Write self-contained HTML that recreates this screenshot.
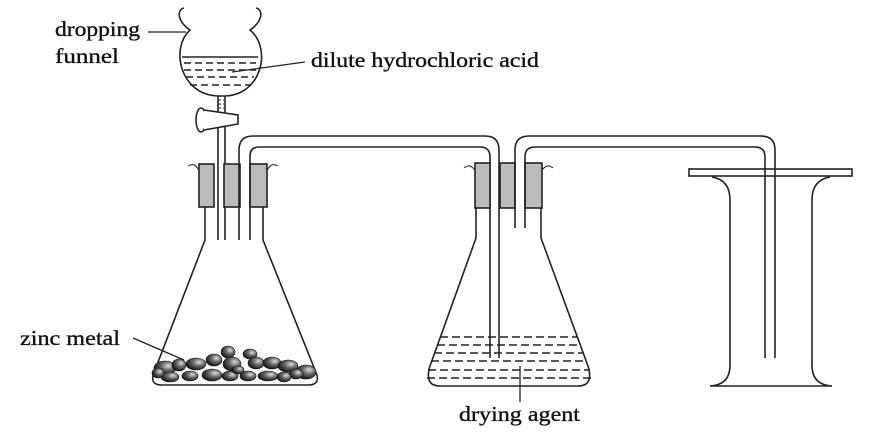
<!DOCTYPE html>
<html><head><style>
html,body{margin:0;padding:0;background:#fff;}
svg{display:block;}
text{font-family:"Liberation Serif",serif;font-size:21px;fill:#111;stroke:#111;stroke-width:0.35;}
</style></head><body>
<svg width="878" height="433" viewBox="0 0 878 433" xmlns="http://www.w3.org/2000/svg">
<defs>
<radialGradient id="z" cx="0.65" cy="0.35" r="0.7">
<stop offset="0" stop-color="#ddd"/><stop offset="0.45" stop-color="#666"/><stop offset="1" stop-color="#111"/>
</radialGradient>
</defs>
<g fill="none" stroke="#222" stroke-width="1.6">
<!-- funnel -->
<path d="M184 8 C176 10 178 22 190 30 C170 48 180 95 218 96 L225 96 C262 95 272 48 250 30 C262 22 264 10 256 8"/>
<line x1="182" y1="57" x2="258" y2="57"/>
<g stroke-dasharray="7,4" stroke-width="1.5">
<line x1="184" y1="63" x2="256" y2="63"/><line x1="184" y1="70" x2="256" y2="70"/>
<line x1="186" y1="77" x2="254" y2="77"/><line x1="190" y1="85" x2="250" y2="85"/>
</g>
<line x1="218" y1="96" x2="218" y2="240"/><line x1="225" y1="96" x2="225" y2="240"/>
<g stroke-dasharray="2,2" stroke-width="1"><line x1="219" y1="100" x2="224" y2="100"/><line x1="219" y1="104" x2="224" y2="104"/><line x1="219" y1="108" x2="224" y2="108"/></g>
<ellipse cx="201" cy="120" rx="5" ry="12" fill="#fff"/>
<path d="M204 110 L238 115 L238 124 L204 130" fill="#fff"/>
<!-- left flask -->
<path d="M205 207 L205 240 L155 370 Q148 385 162 385 L308 385 Q322 385 315 370 L263 240 L263 207"/>
<path d="M188 166 C195 162 197 168 199 170 M278 166 C271 162 269 168 267 170" stroke-width="1"/>
<g fill="#bbb"><rect x="199" y="164" width="15" height="43"/><rect x="224" y="164" width="16" height="43"/><rect x="250" y="164" width="17" height="43"/></g>
<!-- tube 1 -->
<path d="M239 240 L239 150 Q239 136 253 136 L485 136 Q499 136 499 150 L499 358"/>
<path d="M250 240 L250 156 Q250 147 259 147 L480 147 Q490 147 490 157 L490 358"/>
<!-- middle flask -->
<path d="M476 208 L476 238 L430 366 Q424 386 440 386 L578 386 Q594 386 588 366 L541 238 L541 208"/>
<path d="M464 168 C470 163 473 168 475 170 M553 168 C547 163 544 168 542 170" stroke-width="1"/>
<g fill="#bbb"><rect x="475" y="163" width="15" height="45"/><rect x="500" y="163" width="15" height="45"/><rect x="525" y="163" width="17" height="45"/></g>
<g stroke-dasharray="8,4" stroke-width="1.5">
<line x1="440" y1="337" x2="578" y2="337"/><line x1="437" y1="345" x2="581" y2="345"/>
<line x1="434" y1="353" x2="584" y2="353"/><line x1="431" y1="361" x2="587" y2="361"/>
<line x1="428" y1="370" x2="590" y2="370"/><line x1="427" y1="378" x2="591" y2="378"/>
</g>
<!-- tube 2 -->
<path d="M515 228 L515 150 Q515 136 529 136 L761 136 Q775 136 775 150 L775 358"/>
<path d="M525 228 L525 157 Q525 147 535 147 L755 147 Q765 147 765 157 L765 358"/>
<!-- gas jar -->
<rect x="689" y="169" width="163" height="7" fill="#fff"/>
<line x1="765" y1="169" x2="765" y2="176"/><line x1="775" y1="169" x2="775" y2="176"/>
<path d="M712 177 Q730 180 730 200 L730 365 Q730 385 710 386 L832 386 Q812 385 812 365 L812 200 Q812 180 830 177"/>
<!-- label lines -->
<line x1="148" y1="32" x2="186" y2="32" stroke-width="1.3"/>
<line x1="232" y1="72" x2="305" y2="62" stroke-width="1.3"/>
<line x1="133" y1="338" x2="184" y2="360" stroke-width="1.3"/>
<line x1="520" y1="366" x2="520" y2="402" stroke-width="1.3"/>
</g>
<!-- zinc -->
<g fill="url(#z)" stroke="#111" stroke-width="0.6">
<ellipse cx="165" cy="368" rx="11" ry="7"/><ellipse cx="179" cy="365" rx="7" ry="6"/>
<ellipse cx="196" cy="364" rx="10" ry="6"/><ellipse cx="214" cy="360" rx="8" ry="6"/>
<ellipse cx="228" cy="352" rx="7" ry="6"/><ellipse cx="232" cy="364" rx="9" ry="7"/>
<ellipse cx="250" cy="354" rx="7" ry="5"/><ellipse cx="256" cy="363" rx="8" ry="6"/>
<ellipse cx="272" cy="363" rx="9" ry="6"/><ellipse cx="288" cy="366" rx="10" ry="6"/>
<ellipse cx="306" cy="372" rx="10" ry="7"/><ellipse cx="296" cy="374" rx="7" ry="5"/>
<ellipse cx="170" cy="377" rx="9" ry="5"/><ellipse cx="190" cy="376" rx="8" ry="5"/>
<ellipse cx="212" cy="375" rx="10" ry="6"/><ellipse cx="230" cy="376" rx="8" ry="5"/>
<ellipse cx="248" cy="376" rx="8" ry="5"/><ellipse cx="268" cy="376" rx="10" ry="5"/>
<ellipse cx="284" cy="377" rx="7" ry="5"/><ellipse cx="158" cy="373" rx="6" ry="5"/>
<ellipse cx="238" cy="370" rx="6" ry="4"/>
</g>
<!-- labels -->
<text x="55" y="36" textLength="85" lengthAdjust="spacingAndGlyphs">dropping</text>
<text x="55" y="63" textLength="64" lengthAdjust="spacingAndGlyphs">funnel</text>
<text x="311" y="67" textLength="228" lengthAdjust="spacingAndGlyphs">dilute hydrochloric acid</text>
<text x="20" y="345" textLength="100" lengthAdjust="spacingAndGlyphs">zinc metal</text>
<text x="459" y="421" textLength="121" lengthAdjust="spacingAndGlyphs">drying agent</text>
</svg>
</body></html>
